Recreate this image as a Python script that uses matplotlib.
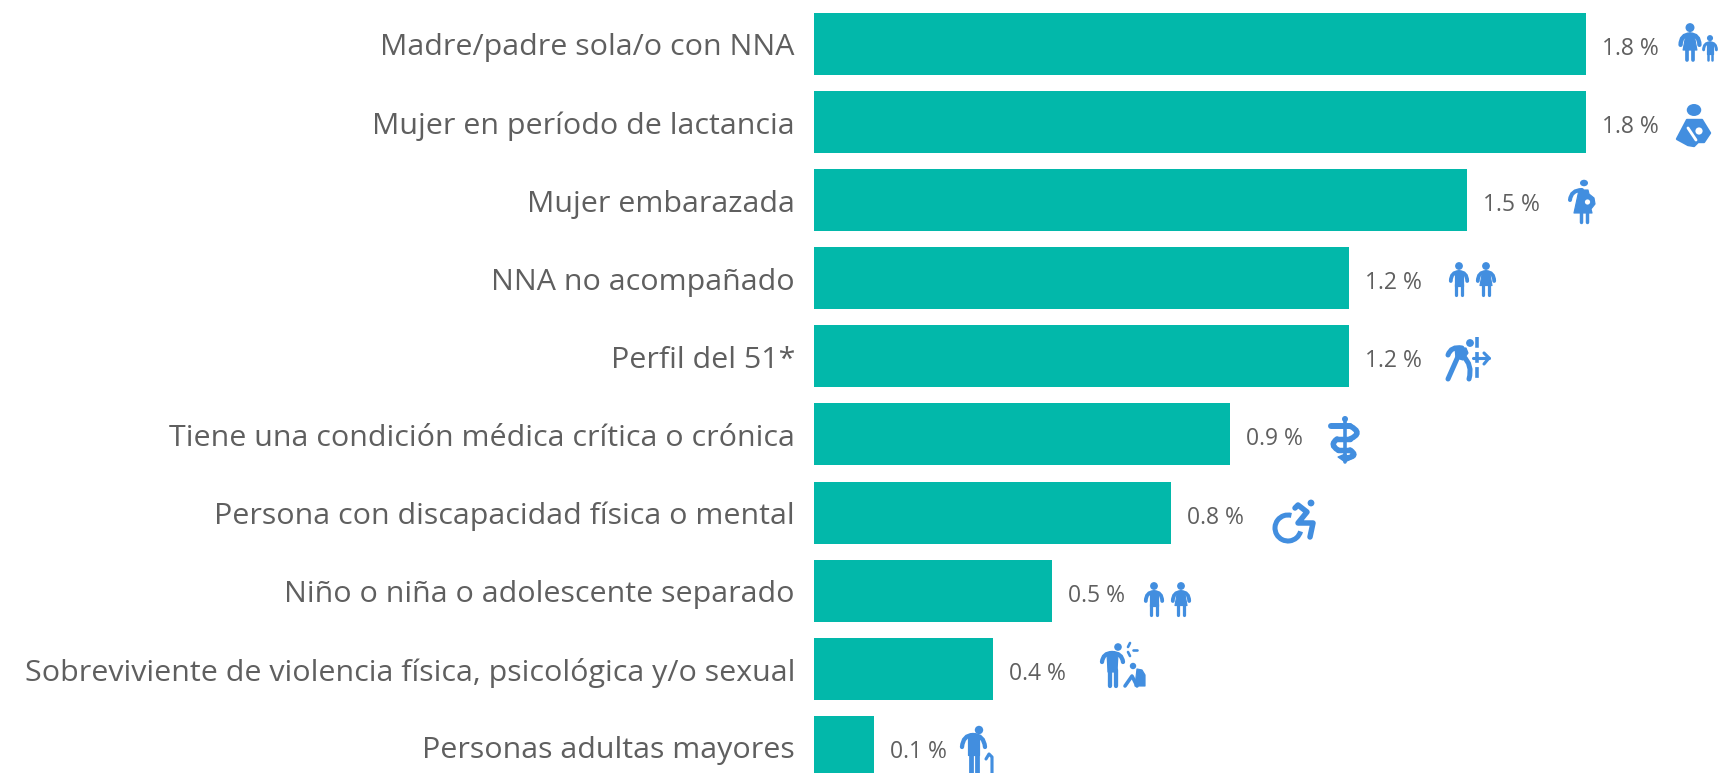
"""
Perfiles de vulnerabilidad - barras horizontales con iconos.
"""
import matplotlib
matplotlib.use("Agg")
import matplotlib.pyplot as plt
import matplotlib.patches as mpatches
from matplotlib.path import Path

W, H = 1718, 773
TEAL = "#02B8AA"
BLUE = "#428EDF"
GREY = "#5F5F5F"
PX = 0.86  # line width scale for the icons

categories = [
    "Madre/padre sola/o con NNA",
    "Mujer en período de lactancia",
    "Mujer embarazada",
    "NNA no acompañado",
    "Perfil del 51*",
    "Tiene una condición médica crítica o crónica",
    "Persona con discapacidad física o mental",
    "Niño o niña o adolescente separado",
    "Sobreviviente de violencia física, psicológica y/o sexual",
    "Personas adultas mayores",
]
values = [1.80, 1.80, 1.522, 1.248, 1.248, 0.97, 0.832, 0.555, 0.418, 0.14]
value_labels = ["1.8 %", "1.8 %", "1.5 %", "1.2 %", "1.2 %",
                "0.9 %", "0.8 %", "0.5 %", "0.4 %", "0.1 %"]

plt.rcParams["font.family"] = ["Open Sans", "DejaVu Sans"]

fig = plt.figure(figsize=(W / 100, H / 100), dpi=100)
fig.patch.set_facecolor("white")

# Bars: axes starts at the bar baseline, 78 px per category
ax = fig.add_axes([814 / W, 0, (W - 814) / W, 1])
ax.set_xlim(0, 1.8 * (W - 814) / 772)
ax.set_ylim((H - 44) / 78.1, -44 / 78.1)
ax.axis("off")
ypos = list(range(len(categories)))
ax.barh(ypos, values, height=62 / 78.1, color=TEAL)

for y, v, cat, lab in zip(ypos, values, categories, value_labels):
    ax.annotate(cat, (0, y), xytext=(-19, -4), textcoords="offset pixels",
                ha="right", va="center", fontsize=21.9, color=GREY,
                annotation_clip=False)
    ax.annotate(lab, (v, y), xytext=(16, -5), textcoords="offset pixels",
                ha="left", va="center", fontsize=16.5, color=GREY,
                annotation_clip=False)

# Overlay in reference pixels for the pictograms
ic = fig.add_axes([0, 0, 1, 1])
ic.set_xlim(0, W)
ic.set_ylim(H, 0)
ic.axis("off")
ic.patch.set_alpha(0)


def circ(x, y, r, color=BLUE):
    ic.add_patch(mpatches.Circle((x, y), r, fc=color, ec="none"))


def line(pts, lw=3.0, color=BLUE):
    xs, ys = zip(*pts)
    ic.plot(xs, ys, color=color, lw=lw * PX, solid_capstyle="round",
            solid_joinstyle="round")


def poly(pts, color=BLUE, edge=1.0):
    ic.add_patch(mpatches.Polygon(pts, closed=True, fc=color, ec=color,
                                  lw=edge * PX, joinstyle="round"))


def curve(p0, p1, p2, lw=3.0):
    path = Path([p0, p1, p2], [Path.MOVETO, Path.CURVE3, Path.CURVE3])
    ic.add_patch(mpatches.PathPatch(path, fc="none", ec=BLUE, lw=lw * PX,
                                    capstyle="round"))


def torso(cx, top, s):
    circ(cx, top + 4 * s, 3.9 * s)
    curve((cx - 8.2 * s, top + 19 * s), (cx - 8 * s, top + 10 * s), (cx, top + 10 * s), 3.2 * s)
    curve((cx + 8.2 * s, top + 19 * s), (cx + 8 * s, top + 10 * s), (cx, top + 10 * s), 3.2 * s)


def boy(cx, top, s=1.0):
    torso(cx, top, s)
    poly([(cx - 4 * s, top + 10 * s), (cx + 4 * s, top + 10 * s),
          (cx + 4 * s, top + 24 * s), (cx - 4 * s, top + 24 * s)])
    line([(cx - 2.7 * s, top + 22 * s), (cx - 2.7 * s, top + 32.5 * s)], 2.7 * s)
    line([(cx + 2.7 * s, top + 22 * s), (cx + 2.7 * s, top + 32.5 * s)], 2.7 * s)


def girl(cx, top, s=1.0):
    torso(cx, top, s)
    poly([(cx - 3.5 * s, top + 10 * s), (cx + 3.5 * s, top + 10 * s),
          (cx + 6 * s, top + 23.5 * s), (cx - 6 * s, top + 23.5 * s)])
    line([(cx - 2.7 * s, top + 23 * s), (cx - 2.7 * s, top + 32.5 * s)], 2.7 * s)
    line([(cx + 2.7 * s, top + 23 * s), (cx + 2.7 * s, top + 32.5 * s)], 2.7 * s)


# Madre/padre con NNA
girl(1690, 23, 1.15)
boy(1710, 35, 0.78)

# Lactancia
ic.add_patch(mpatches.Ellipse((1694, 110), 14.5, 12, fc=BLUE, ec="none"))
poly([(1687, 120), (1702, 120), (1710, 133), (1704, 142), (1698, 142),
      (1694, 146), (1688, 145), (1677, 139)], edge=2.0)
circ(1699, 131, 3.6, "white")
line([(1688, 128), (1696, 140)], 2.4, "white")

# Embarazada
ic.add_patch(mpatches.Ellipse((1584, 183), 8, 6.5, fc=BLUE, ec="none"))
curve((1570, 200), (1571, 190), (1582, 190), 3.4)
poly([(1579, 190), (1588, 190), (1589, 194), (1594, 198), (1595, 204),
      (1591, 209), (1592, 213), (1574, 213)])
line([(1581, 212), (1581, 222)], 2.9)
line([(1587, 212), (1587, 222)], 2.9)
circ(1587.5, 202, 2.6, "white")

# NNA no acompañado
boy(1459, 262)
girl(1486, 262)

# Perfil del 51
circ(1470, 343, 3.9)
curve((1448, 355), (1451, 346), (1462, 348), 4.2)
poly([(1455, 348), (1466, 348), (1468, 353), (1463, 360), (1456, 358)])
line([(1460, 352), (1448, 379)], 4.2)
curve((1463, 356), (1473, 365), (1469, 379), 4.2)
ic.plot([1477, 1477], [337, 380], color=BLUE, lw=3 * PX, ls=(0, (3, 1.2)))
line([(1473, 358), (1489, 358)], 2.6)
line([(1484, 353), (1489, 358), (1484, 364)], 2.6)

# Condición médica (vara de Esculapio)
line([(1345, 420), (1345, 462)], 3.0)
circ(1345, 419, 3.0)
line([(1331, 426), (1350, 426)], 5.0)
curve((1350, 426), (1364, 433), (1350, 439), 4.6)
line([(1350, 439), (1337, 439)], 4.6)
curve((1337, 439), (1329, 445), (1338, 450), 4.6)
line([(1338, 450), (1350, 450)], 4.6)
curve((1350, 450), (1359, 456), (1347, 458), 4.6)
poly([(1338, 457), (1345, 454), (1351, 459), (1345, 462)])

# Discapacidad
circ(1311, 503, 3.4)
ic.add_patch(mpatches.Arc((1288, 528), 26, 26, theta1=15, theta2=285,
                          ec=BLUE, lw=4.2 * PX))
line([(1295, 508), (1298, 505), (1307, 512), (1298, 523), (1313, 523), (1310, 537)], 4.6)

# Niño o niña separado
boy(1154, 582)
girl(1181, 582)

# Sobreviviente
circ(1118, 647, 3.8)
curve((1102, 662), (1103, 653), (1112, 653), 3.6)
curve((1123, 662), (1122, 653), (1112, 653), 3.6)
poly([(1107, 653), (1118, 653), (1117, 672), (1108, 672)])
line([(1110, 670), (1110, 686)], 3.6)
line([(1116, 670), (1116, 686)], 3.6)
line([(1130, 643), (1128, 647)], 2.2)
line([(1133, 650), (1137, 650)], 2.2)
line([(1128, 652), (1130, 656)], 2.2)
circ(1133, 666, 3.2)
poly([(1137, 669), (1142, 670), (1145, 675), (1145, 686), (1135, 686)])
line([(1125, 686), (1132, 676), (1137, 686)], 3.0)

# Adultas mayores
circ(979, 730, 4.2)
curve((962, 747), (963, 735), (973, 735), 3.6)
curve((985, 747), (984, 735), (973, 735), 3.6)
poly([(968, 735), (979, 735), (979, 755), (968, 755)])
line([(970.5, 752), (970.5, 773)], 4.0)
line([(976.5, 752), (976.5, 773)], 4.0)
line([(986, 759), (989, 754), (992, 757), (992, 773)], 2.6)

fig.savefig("out.png", dpi=100, facecolor="white")
plt.close()
print("Saved: out.png")
